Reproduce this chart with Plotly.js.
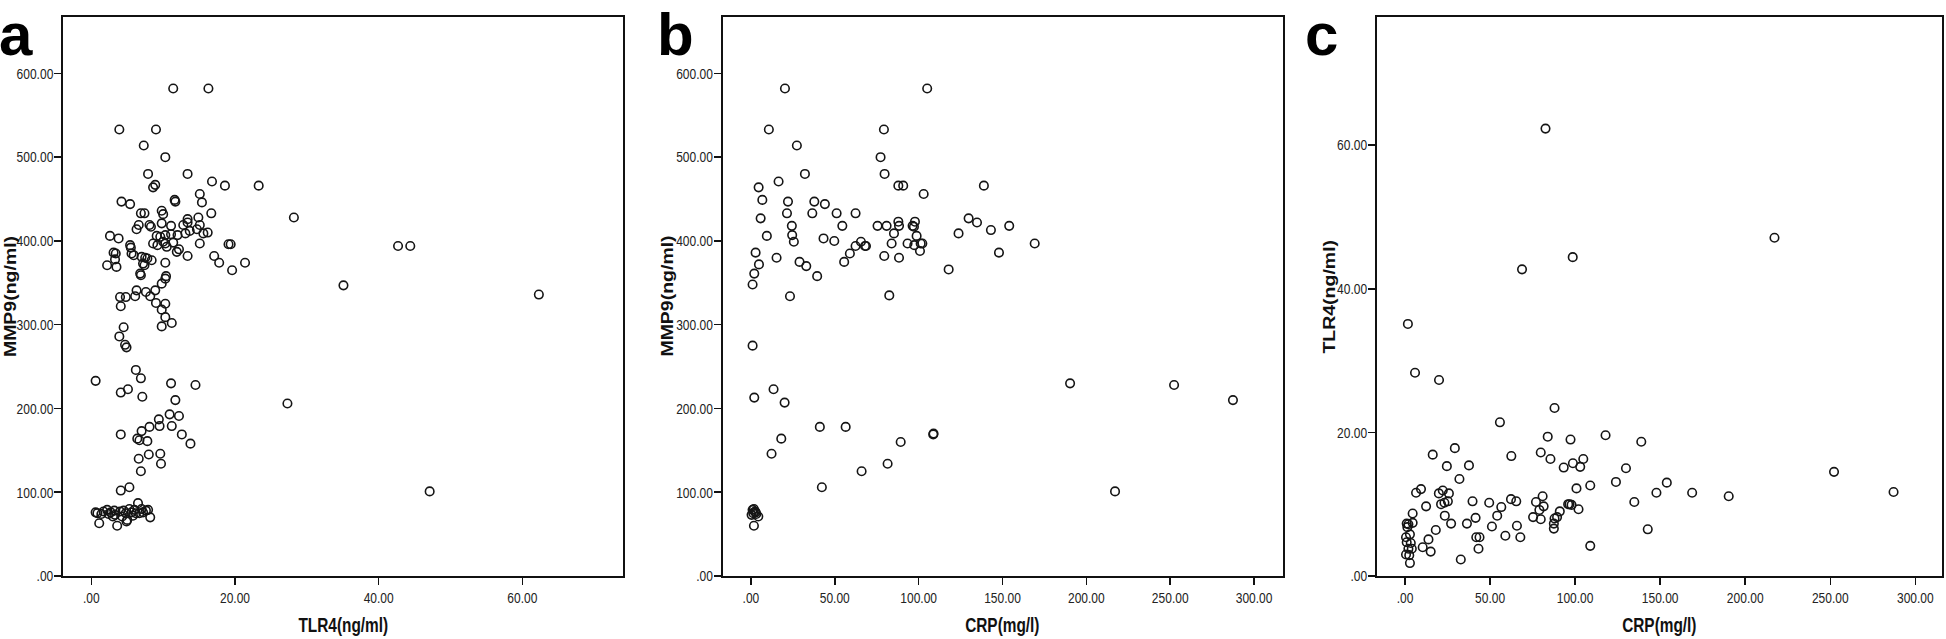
<!DOCTYPE html>
<html>
<head>
<meta charset="utf-8">
<script src="https://cdn.plot.ly/plotly-3.0.1.min.js"></script>
<style>html,body{margin:0;padding:0;background:#fff;overflow:hidden;}#chart{width:1946px;height:639px;}</style>
</head>
<body>
<div id="chart"></div>
<script>
// Panel a: TLR4 (ng/ml) vs MMP9 (ng/ml)
const a_tlr4 = [11.4,16.3,3.9,9.0,7.3,10.3,7.9,13.4,16.8,18.6,23.3,8.9,8.6,11.6,11.7,4.2,5.4,15.1,15.4,
16.7,13.4,14.9,9.8,10.0,6.9,7.4,28.2,
6.6,6.3,8.1,8.3,9.8,11.1,12.8,13.4,15.1,15.6,16.2,14.7,13.7,13.1,12.0,11.1,10.3,9.6,2.6,3.8,9.1,10.0,10.3,8.6,11.4,9.2,11.9,12.2,10.5,15.1,19.1,19.4,5.4,5.5,5.6,5.9,3.1,3.4,3.3,2.2,3.5,7.0,7.5,7.8,8.4,7.2,7.4,6.8,6.9,10.3,13.4,17.1,17.8,21.4,19.6,10.4,10.3,9.8,8.9,7.6,6.3,6.1,4.0,4.8,4.1,8.2,9.0,10.3,9.8,10.3,11.2,9.8,4.5,3.9,4.7,4.9,
42.7,44.4,35.1,62.3,
0.6,6.2,6.9,4.1,5.1,7.1,11.1,14.5,11.7,10.9,12.2,9.4,9.5,11.2,8.1,7.0,4.1,6.4,6.7,7.8,12.6,13.8,6.6,8.0,9.6,9.7,6.9,27.3,4.1,5.3,47.1,
0.85,1.1,0.6,1.7,2.2,2.7,3.2,3.3,3.6,4.0,4.3,4.8,4.9,5.0,5.3,5.6,6.0,6.5,6.7,7.0,7.6,7.9,8.2,1.4,2.4,3.0,4.5,5.8,6.2,7.2];
const a_mmp9 = [582,582,533,533,514,500,480,480,471,466,466,467,464,449,447,447,444,456,446,
433,426,428,436,432,433,433,428,
419,414,419,417,421,418,419,422,419,409,410,414,412,409,407,408,407,405,406,403,406,399,397,397,398,395,387,390,393,397,396,396,395,392,385,383,386,385,378,371,369,381,380,379,377,373,371,361,359,374,382,382,374,374,365,358,355,349,341,339,341,334,333,333,322,334,326,325,318,309,302,298,297,286,276,273,
394,394,347,336,
233,246,236,219,223,214,230,228,210,193,191,187,179,179,178,173,169,164,162,161,169,158,140,145,146,134,125,206,102,106,101,
75,63,76,77,79,76,78,73,60,77,71,75,65,67,80,76,79,87,75,80,78,79,70,74,74,71,78,72,75,76];

// Panel b: CRP (mg/l) vs MMP9 (ng/ml)
const b_crp = [20.3,105.1,10.7,79.3,27.4,77.3,32.2,79.7,16.5,87.9,90.8,138.9,4.6,6.8,22.1,37.8,44.1,103.0,5.8,21.5,36.6,51.1,62.4,24.4,9.5,24.6,25.6,54.5,43.3,49.7,75.5,80.9,87.9,88.3,85.3,83.9,96.4,97.8,97.2,98.8,93.4,97.4,101.2,102.2,100.8,65.6,68.0,68.6,62.4,59.0,55.6,79.5,88.3,15.3,29.0,33.0,39.5,2.8,4.8,2.0,1.0,23.3,82.5,117.9,123.8,129.8,134.8,143.1,154.0,147.9,169.2,
1.0,2.0,13.5,20.1,41.1,56.5,18.1,12.3,42.3,66.0,81.5,89.3,108.7,108.9,
1.0,1.8,2.4,1.4,2.9,4.4,1.8,0.4,3.2,
190.3,252.3,287.4,217.1];
const b_mmp9 = [582,582,533,533,514,500,480,480,471,466,466,466,464,449,447,447,444,456,427,433,433,433,433,418,406,407,399,418,403,400,418,418,423,418,409,397,418,423,417,406,397,395,397,397,388,399,394,394,394,385,375,382,380,380,375,370,358,386,372,361,348,334,335,366,409,427,422,413,418,386,397,
275,213,223,207,178,178,164,146,106,125,134,160,169,170,
79,80,77,75,76,71,60,73,74,
230,228,210,101];

// Panel c: CRP (mg/l) vs TLR4 (ng/ml)
const c_crp = [82.6,217.2,98.6,68.8,1.7,5.9,20.0,252.2,287.2,190.3,
87.9,55.8,83.9,97.3,117.9,138.9,29.3,16.3,79.8,62.5,85.5,104.8,98.7,103.0,93.3,129.9,24.6,37.6,32.0,124.0,153.9,147.8,168.8,108.9,100.8,134.8,142.7,108.9,6.5,9.4,22.2,19.9,25.8,12.4,23.2,25.2,21.2,39.7,49.5,56.6,62.3,65.4,77.0,80.9,81.5,79.0,75.3,79.8,96.7,97.9,95.9,102.0,91.0,89.4,87.9,87.5,87.5,23.4,27.1,36.4,41.5,54.2,51.1,65.8,18.1,13.8,10.4,15.1,32.8,41.9,43.8,43.2,59.0,67.8,4.5,4.5,
1.0,2.0,1.4,0.6,2.9,1.0,3.4,2.0,4.0,0.6,2.5,2.9];
const c_tlr4 = [62.3,47.1,44.4,42.7,35.1,28.3,27.3,14.5,11.7,11.1,
23.4,21.4,19.4,19.0,19.6,18.7,17.8,16.9,17.2,16.7,16.3,16.3,15.7,15.2,15.1,15.0,15.3,15.4,13.5,13.1,13.0,11.6,11.6,12.6,12.2,10.3,6.5,4.2,11.6,12.1,11.9,11.5,11.5,9.7,10.2,10.4,10.0,10.4,10.2,9.6,10.7,10.4,10.3,11.1,9.7,9.2,8.2,7.9,10.0,9.9,10.0,9.3,9.0,8.2,8.0,7.3,6.6,8.4,7.3,7.3,8.1,8.4,6.9,7.0,6.4,5.1,4.0,3.4,2.3,5.4,5.4,3.8,5.6,5.4,8.7,7.4,
7.3,7.2,6.8,5.4,5.8,4.7,4.6,3.8,3.8,3.0,2.9,1.8];

// Tick values and labels
const tlr4Ticks_a = [0,20,40,60];
const tlr4TickText_a = [".00","20.00","40.00","60.00"];
const mmp9Ticks = [0,100,200,300,400,500,600];
const mmp9TickText = [".00","100.00","200.00","300.00","400.00","500.00","600.00"];
const crpTicks = [0,50,100,150,200,250,300];
const crpTickText = [".00","50.00","100.00","150.00","200.00","250.00","300.00"];
const tlr4Ticks_c = [0,20,40,60];
const tlr4TickText_c = [".00","20.00","40.00","60.00"];

// Axis titles and panel letters
const xTitles = ['TLR4(ng/ml)', 'CRP(mg/l)', 'CRP(mg/l)'];
const yTitles = ['MMP9(ng/ml)', 'MMP9(ng/ml)', 'TLR4(ng/ml)'];
const panelLetters = ['a', 'b', 'c'];

const sans = "'Liberation Sans', Arial, sans-serif";
const xTitleFont = {family: sans, size: 20, color: '#111', weight: 'bold'};
const yTitleFont = {family: sans, size: 19.5, color: '#111', weight: 'bold'};
const letterFont = {family: sans, size: 60, color: '#000', weight: 'bold'};
const tickFont = {family: sans, size: 15, color: '#222'};

const marker = {symbol: 'circle-open', size: 8.5, color: '#151515', line: {width: 1.6, color: '#151515'}};

const traces = [
  {type: 'scatter', mode: 'markers', x: a_tlr4, y: a_mmp9, xaxis: 'x', yaxis: 'y', marker: marker, hoverinfo: 'x+y'},
  {type: 'scatter', mode: 'markers', x: b_crp, y: b_mmp9, xaxis: 'x2', yaxis: 'y2', marker: marker, hoverinfo: 'x+y'},
  {type: 'scatter', mode: 'markers', x: c_crp, y: c_tlr4, xaxis: 'x3', yaxis: 'y3', marker: marker, hoverinfo: 'x+y'}
];

const W = 1946, H = 639;
const boxTop = 17.3, boxBottom = 576;
const yDom = [(H - boxBottom) / H, (H - boxTop) / H];
const boxes = [[63.3, 622.9], [722.9, 1283.1], [1377.1, 1941.7]];
const yTitleX = [10.5, 667, 1329];
const letterX = [-2, 656, 1304];

function xAx(dom, range, tv, tt, anchor) {
  return {
    domain: dom, range: range, anchor: anchor, automargin: false,
    tickmode: 'array', tickvals: tv, ticktext: tt,
    showline: true, mirror: true, linecolor: '#111', linewidth: 2,
    ticks: 'outside', ticklen: 7, tickwidth: 1.5, tickcolor: '#111',
    showgrid: false, zeroline: false, tickfont: tickFont
  };
}
function yAx(range, tv, tt, anchor) {
  return {
    domain: yDom, range: range, anchor: anchor, automargin: false,
    tickmode: 'array', tickvals: tv, ticktext: tt,
    showline: true, mirror: true, linecolor: '#111', linewidth: 2,
    ticks: 'outside', ticklen: 7, tickwidth: 1.5, tickcolor: '#111',
    showgrid: false, zeroline: false, tickfont: tickFont, ticklabelstandoff: -2
  };
}

const annotations = [];
const xTitleIdx = [], yTitleIdx = [];
for (let i = 0; i < 3; i++) {
  const cx = (boxes[i][0] + boxes[i][1]) / 2;
  xTitleIdx.push(annotations.length);
  annotations.push({text: xTitles[i], xref: 'paper', yref: 'paper', x: cx / W, y: (H - 625) / H,
    xanchor: 'center', yanchor: 'middle', showarrow: false, font: xTitleFont});
  yTitleIdx.push(annotations.length);
  annotations.push({text: yTitles[i], xref: 'paper', yref: 'paper', x: yTitleX[i] / W, y: (H - (boxTop + boxBottom) / 2) / H,
    xanchor: 'center', yanchor: 'middle', textangle: -90, showarrow: false, font: yTitleFont});
  annotations.push({text: panelLetters[i], xref: 'paper', yref: 'paper', x: letterX[i] / W, y: 1,
    xanchor: 'left', yanchor: 'top', showarrow: false, borderpad: 0, font: letterFont});
}

const layout = {
  width: W, height: H,
  margin: {l: 0, r: 0, t: 0, b: 0, pad: 0, autoexpand: false},
  paper_bgcolor: '#fff', plot_bgcolor: '#fff',
  showlegend: false,
  font: {family: sans, size: 15, color: '#222'},
  xaxis: xAx([boxes[0][0] / W, boxes[0][1] / W], [-3.9, 74], tlr4Ticks_a, tlr4TickText_a, 'y'),
  yaxis: yAx([0, 667], mmp9Ticks, mmp9TickText, 'x'),
  xaxis2: xAx([boxes[1][0] / W, boxes[1][1] / W], [-16.7, 317.3], crpTicks, crpTickText, 'y2'),
  yaxis2: yAx([0, 667], mmp9Ticks, mmp9TickText, 'x2'),
  xaxis3: xAx([boxes[2][0] / W, boxes[2][1] / W], [-16.4, 315.5], crpTicks, crpTickText, 'y3'),
  yaxis3: yAx([0, 77.8], tlr4Ticks_c, tlr4TickText_c, 'x3'),
  annotations: annotations
};

// The reference figure is horizontally compressed (SPSS export): squeeze text widths accordingly.
function squeeze(el, sx, sy, mode) {
  const bb = el.getBBox();
  const ax = mode === 'right' ? bb.x + bb.width : bb.x + bb.width / 2;
  const ay = bb.y + bb.height / 2;
  const prev = el.getAttribute('transform') || '';
  el.setAttribute('transform', prev + ' translate(' + ax + ' ' + ay + ') scale(' + sx + ' ' + sy + ') translate(' + (-ax) + ' ' + (-ay) + ')');
}

Plotly.newPlot('chart', traces, layout, {displayModeBar: false, staticPlot: true}).then(function (gd) {
  try {
    gd.querySelectorAll('.yaxislayer-above text').forEach(function (t) { squeeze(t, 0.8, 1, 'right'); });
    gd.querySelectorAll('.xaxislayer-above text').forEach(function (t) { squeeze(t, 0.8, 1, 'center'); });
    xTitleIdx.forEach(function (idx) {
      const t = gd.querySelector('.annotation[data-index="' + idx + '"] text.annotation-text');
      if (t) squeeze(t, 0.77, 1, 'center');
    });
    yTitleIdx.forEach(function (idx) {
      const t = gd.querySelector('.annotation[data-index="' + idx + '"] text.annotation-text');
      if (t) squeeze(t, 1, 0.8, 'center');
    });
  } catch (e) {}
});
</script>
</body>
</html>
